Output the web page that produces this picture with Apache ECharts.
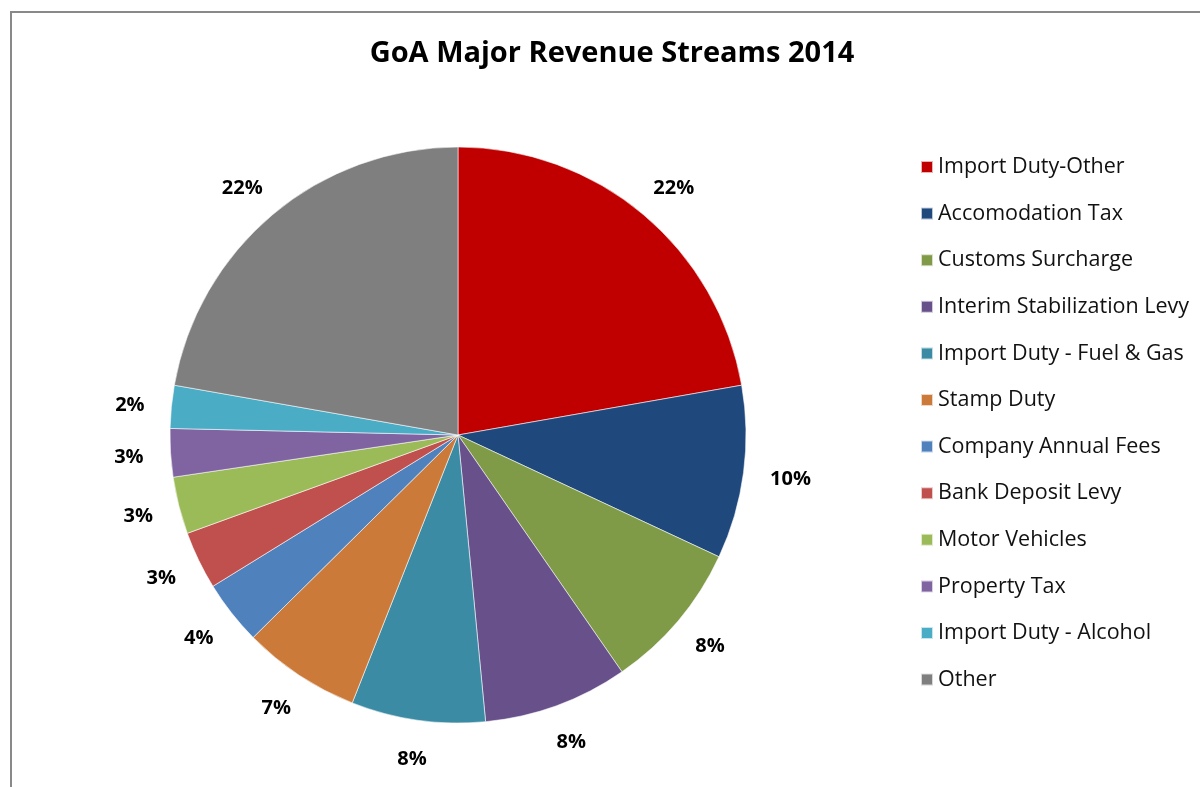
<!DOCTYPE html>
<html>
<head>
<meta charset="utf-8">
<script src="https://cdn.jsdelivr.net/npm/echarts@6/dist/echarts.min.js"></script>
<style>
html,body{margin:0;padding:0;background:#fff;}
#chart{width:1200px;height:787px;}
</style>
</head>
<body>
<div id="chart"></div>
<script>
const categories = ["Import Duty-Other","Accomodation Tax","Customs Surcharge","Interim Stabilization Levy","Import Duty - Fuel & Gas","Stamp Duty","Company Annual Fees","Bank Deposit Levy","Motor Vehicles","Property Tax","Import Duty - Alcohol","Other"];
const shares = [22.2, 9.7, 8.4, 8.1, 7.5, 6.6, 3.6, 3.25, 3.2, 2.7, 2.4, 22.2];
const colors = ["#C00000","#1F497D","#7F9B48","#68508A","#3A8BA3","#CB7A39","#4F81BD","#C0504D","#9BBB59","#8064A2","#4BACC6","#7F7F7F"];

const CX = 458, CY = 435, R = 288, GAP = 27;
const total = shares.reduce((a,b)=>a+b,0);
const cum = [];
let acc = 0;
shares.forEach(v => { cum.push(acc + v/2); acc += v; });

const chart = echarts.init(document.getElementById('chart'));
chart.setOption({
  animation: false,
  title: {
    text: 'GoA Major Revenue Streams 2014',
    left: 612, top: 39, textAlign: 'center', padding: 0,
    textStyle: {fontFamily: 'Open Sans', fontWeight: 'bold', fontSize: 29, color: '#000'}
  },
  graphic: [{
    type: 'rect', shape: {x: 11, y: 12, width: 1300, height: 900},
    style: {fill: 'none', stroke: '#898989', lineWidth: 2}, silent: true
  }],
  legend: {
    orient: 'vertical', left: 920, top: 156, padding: 0,
    itemWidth: 12, itemHeight: 12, itemGap: 24.6, icon: 'rect',
    textStyle: {fontFamily: 'Open Sans', fontSize: 21.5, color: '#111', lineHeight: 22},
    data: categories
  },
  series: [{
    type: 'pie',
    center: [CX, CY], radius: R,
    startAngle: 90, clockwise: true,
    avoidLabelOverlap: false,
    itemStyle: {borderColor: 'rgba(255,255,255,0.7)', borderWidth: 0.8},
    label: {
      show: true, position: 'outside',
      fontFamily: 'Open Sans', fontWeight: 'bold', fontSize: 20, color: '#000',
      formatter: p => Math.round(p.value / total * 100) + '%'
    },
    labelLine: {show: false},
    labelLayout: function (params) {
      const i = params.dataIndex;
      const a = cum[i] / total * 2 * Math.PI;
      const ux = Math.sin(a), uy = -Math.cos(a);
      const w = params.labelRect.width, h = params.labelRect.height;
      return {
        x: CX + ux * (R + GAP) + ux * w / 2,
        y: CY + uy * (R + GAP) + uy * h / 2 + 2,
        align: 'center', verticalAlign: 'middle'
      };
    },
    data: categories.map((c, i) => ({name: c, value: shares[i], itemStyle: {color: colors[i]}}))
  }]
});
</script>
</body>
</html>
